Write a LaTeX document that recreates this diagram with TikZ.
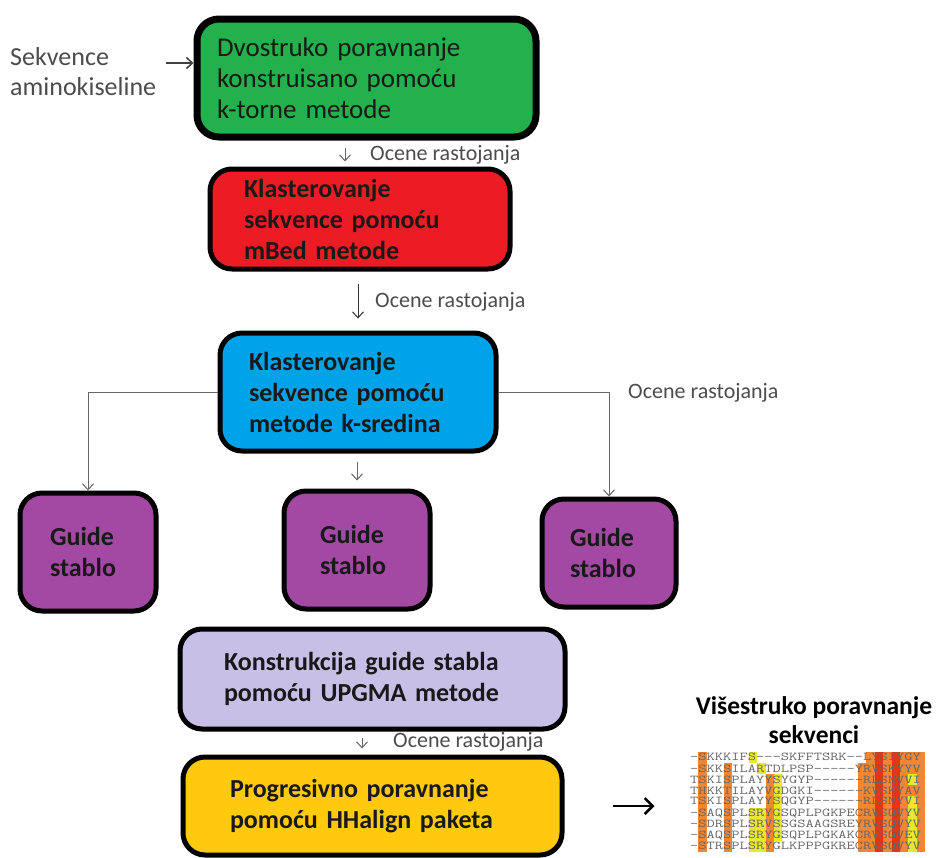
\documentclass[tikz,border=0pt]{standalone}
\usepackage{fontspec}
\setmainfont{Carlito}
\usetikzlibrary{positioning,arrows.meta}
\definecolor{pgreen}{RGB}{34,177,76}
\definecolor{pred}{RGB}{237,28,36}
\definecolor{pblue}{RGB}{0,162,232}
\definecolor{ppurple}{RGB}{163,73,164}
\definecolor{plavender}{RGB}{200,191,231}
\definecolor{pyellow}{RGB}{255,201,14}
\definecolor{msaO}{RGB}{240,135,55}
\definecolor{msaR}{RGB}{225,55,20}
\definecolor{msaY}{RGB}{232,232,50}

\begin{document}
\begin{tikzpicture}[x=1pt, y=-1pt,
  stage/.style={draw=black, line width=5pt, rounded corners=22pt, align=left, inner ysep=0pt, text=black!90, font=\bfseries\fontsize{26}{31}\selectfont},
  note/.style={font=\fontsize{22}{25}\selectfont, text=black!70, inner sep=0pt, anchor=west},
  link/.style={draw=black!60, line width=1pt, -{Straight Barb[length=6pt,width=11pt]}},
  seqrow/.style={font=\ttfamily\fontsize{12}{12}\selectfont, text=black!60, inner sep=0pt, anchor=west}]
\useasboundingbox (0,0) rectangle (939,857);
% Koraci postupka
\node[stage, fill=pgreen, line width=7pt, font=\fontsize{27}{31}\selectfont, minimum height=118pt, text width=299pt, inner xsep=20pt] (pair) at (366.5,78) {Dvostruko poravnanje\\konstruisano pomoću\\k-torne metode};
\node[stage, fill=pred, minimum height=100pt, text width=232pt, inner xsep=34pt] (mbed) at (360,219) {Klasterovanje\\sekvence pomoću\\mBed metode};
\node[stage, fill=pblue, minimum height=118pt, text width=218pt, inner xsep=29pt] (ksr) at (358,392) {Klasterovanje\\sekvence pomoću\\metode k-sredina};
% Guide stabla
\node[stage, fill=ppurple, minimum height=118pt, text width=76pt, inner xsep=30pt] (treeL) at (88,552) {Guide\\stablo};
\node[stage, fill=ppurple, minimum height=118pt, text width=74pt, inner xsep=36pt] (treeM) at (357,550) {Guide\\stablo};
\node[stage, fill=ppurple, minimum height=108pt, text width=78pt, inner xsep=28pt] (treeR) at (609,553) {Guide\\stablo};
\node[stage, fill=plavender, minimum height=100pt, text width=297pt, inner xsep=44pt] (upgma) at (372.5,679) {Konstrukcija guide stabla\\pomoću UPGMA metode};
\node[stage, fill=pyellow, minimum height=98pt, text width=285pt, inner xsep=47pt] (hh) at (372.5,806) {Progresivno poravnanje\\pomoću HHalign paketa};
% Ulaz
\node[note, font=\fontsize{26}{30}\selectfont, align=left] (seq) at (10,72) {Sekvence\\aminokiseline};
\coordinate (inArrow) at (166,63);
\draw[link, draw=black!75, line width=1.5pt] (inArrow) -- (inArrow -| pair.west);
% Strelice i oznake
\draw[link, shorten <=7pt, shorten >=5pt] ([xshift=-21.5pt]pair.south) -- ([xshift=-21.5pt]pair.south |- mbed.north);
\node[note] (d1) at (370,155) {Ocene rastojanja};
\draw[link, draw=black!80, shorten <=12pt, shorten >=12pt] (mbed.south -| ksr.north) -- (ksr.north);
\node[note] (d2) at (375,302) {Ocene rastojanja};
\draw[link] (ksr.west) -| (treeL.north);
\draw[link, shorten <=8pt, shorten >=8pt] (ksr.south -| treeM.north) -- (treeM.north);
\draw[link] (ksr.east) -| (treeR.north);
\node[note] (d3) at (628,393) {Ocene rastojanja};
\draw[link, shorten <=6pt, shorten >=6pt] ([xshift=-10.5pt]upgma.south) -- ([xshift=-10.5pt]upgma.south |- hh.north);
\node[note] (d4) at (393,742) {Ocene rastojanja};
\draw[line width=2.5pt, -{Straight Barb[length=8pt,width=16pt]}] ([xshift=48pt]hh.east) -- ([xshift=90pt]hh.east);
% Visestruko poravnanje
\node[font=\bfseries\fontsize{25.5}{29}\selectfont, align=center] (msaTitle) at (814,720) {Višestruko poravnanje\\sekvenci};
\foreach \a/\b/\p/\q/\clr in {1/1/1/9/msaO, 4/4/2/9/msaO, 7/7/1/1/msaY, 8/8/2/2/msaY, 7/8/6/9/msaY, 9/9/3/9/msaO, 10/10/3/8/msaY, 21/27/1/1/msaO, 20/27/2/9/msaO, 22/22/1/9/msaR, 24/24/1/9/msaR, 26/26/3/3/msaY, 26/26/5/9/msaY}
  \fill[\clr] (690+8.4*\a,740.4+11.2*\p) rectangle (698.4+8.4*\b,751.6+11.2*\q);
\foreach \r/\s in {1/-SKKKIFS---SKFFTSRK--LYSIYGY, 2/-SKKSILARTDLPSP-----YRVSKYYV, 3/TSKISPLAYYSYGYP------RLSNVVI, 4/THKKTILAYVGDGKI------KVSKYAV, 5/TSKISPLAYYSQGYP------RLSNYVI, 6/-SAQSPLSRYGSQPLPGKPECRVSQVYV, 7/-SDRSPLSRVSSGSAAGSREYRVSQVYV, 8/-SAQSPLSRYGSQPLPGKAKCRVSQVEV, 9/-STRSPLSRYGLKPPPGKRECRVSQVYV}
  \node[seqrow] (row\r) at (690,746+11.2*\r) {\scalebox{1.333}[1]{\s}};
\end{tikzpicture}
\end{document}
